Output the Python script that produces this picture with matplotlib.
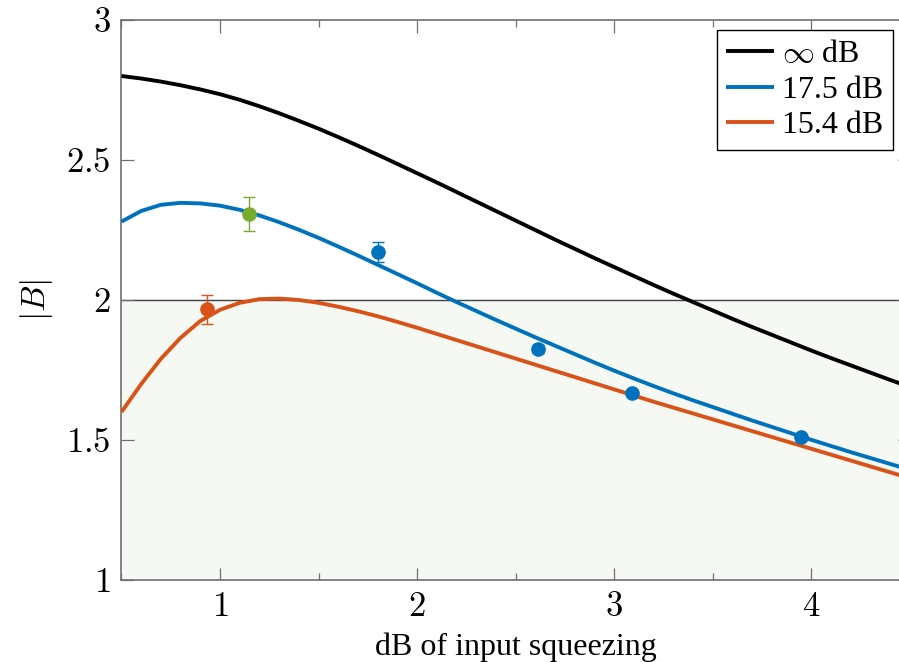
import numpy as np
import matplotlib
matplotlib.use('Agg')
import matplotlib.pyplot as plt
from matplotlib.ticker import MultipleLocator

plt.rcParams['font.family'] = ['Liberation Serif', 'DejaVu Serif']
plt.rcParams['mathtext.fontset'] = 'cm'

# curves, x step 0.1 from 0.5 to 4.5
x_grid = [0.5, 0.6, 0.7, 0.8, 0.9, 1.0, 1.1, 1.2, 1.3, 1.4,
          1.5, 1.6, 1.7, 1.8, 1.9, 2.0, 2.1, 2.2, 2.3, 2.4,
          2.5, 2.6, 2.7, 2.8, 2.9, 3.0, 3.1, 3.2, 3.3, 3.4,
          3.5, 3.6, 3.7, 3.8, 3.9, 4.0, 4.1, 4.2, 4.3, 4.4, 4.5]

y_inf = [2.800, 2.791, 2.780, 2.767, 2.752, 2.735, 2.715, 2.692, 2.667, 2.640,
         2.612, 2.582, 2.551, 2.519, 2.486, 2.453, 2.420, 2.386, 2.352, 2.318,
         2.284, 2.250, 2.216, 2.183, 2.150, 2.118, 2.086, 2.054, 2.023, 1.993,
         1.963, 1.933, 1.904, 1.876, 1.848, 1.820, 1.793, 1.767, 1.741, 1.715, 1.690]

y_175 = [2.280, 2.318, 2.340, 2.347, 2.345, 2.337, 2.322, 2.302, 2.278, 2.251,
         2.222, 2.191, 2.159, 2.126, 2.093, 2.060, 2.026, 1.993, 1.961, 1.929,
         1.898, 1.867, 1.837, 1.807, 1.777, 1.748, 1.720, 1.693, 1.667, 1.642,
         1.618, 1.594, 1.570, 1.547, 1.524, 1.501, 1.479, 1.457, 1.436, 1.415, 1.394]

y_154 = [1.600, 1.700, 1.790, 1.865, 1.925, 1.965, 1.990, 2.003, 2.005, 2.000,
         1.990, 1.976, 1.960, 1.942, 1.922, 1.901, 1.879, 1.857, 1.835, 1.813,
         1.791, 1.769, 1.747, 1.725, 1.703, 1.681, 1.659, 1.637, 1.616, 1.595,
         1.574, 1.553, 1.532, 1.511, 1.490, 1.469, 1.448, 1.427, 1.406, 1.385, 1.364]

# measured points
pt_x = [0.936, 1.149, 1.80, 2.613, 3.093, 3.949]
pt_y = [1.967, 2.308, 2.172, 1.824, 1.667, 1.512]
pt_err = [0.052, 0.060, 0.035, 0.015, 0.010, 0.005]
pt_col = ['#D95319', '#77AC30', '#0072BD', '#0072BD', '#0072BD', '#0072BD']

labels = [r'$\infty$ dB', '17.5 dB', '15.4 dB']
line_cols = ['black', '#0072BD', '#D95319']

xticks = [1, 2, 3, 4]
xtick_labels = [r'$1$', r'$2$', r'$3$', r'$4$']
yticks = [1, 1.5, 2, 2.5, 3]
ytick_labels = [r'$1$', r'$1.5$', r'$2$', r'$2.5$', r'$3$']

W, H = 899, 662
fig = plt.figure(figsize=(W / 100, H / 100), dpi=100)
ax = fig.add_axes([121.5 / W, 82 / H, 788 / W, 560 / H])
ax.set_xlim(0.5, 4.5)
ax.set_ylim(1, 3)

ax.axhspan(1, 2, color='#f6f9f3', zorder=0)
ax.axhline(2, color='#404040', lw=1.0, zorder=1)

for ys, c, lab in zip([y_inf, y_175, y_154], line_cols, labels):
    ax.plot(x_grid, ys, color=c, lw=2.8, label=lab, zorder=3,
            solid_capstyle='butt', solid_joinstyle='round')

for x, y, e, c in zip(pt_x, pt_y, pt_err, pt_col):
    eb = ax.errorbar(x, y, yerr=e, fmt='o', color=c, ms=9.5, elinewidth=1.0,
                     capsize=4.5, capthick=1.0, ecolor=c, zorder=4)
    for cap in eb[1]:
        cap.set_color('black')

ax.set_xticks(xticks)
ax.set_xticklabels(xtick_labels)
ax.set_yticks(yticks)
ax.set_yticklabels(ytick_labels)
ax.xaxis.set_minor_locator(MultipleLocator(0.5))
ax.tick_params(which='both', direction='in', top=True, right=True, color='#707070',
               labelsize=25, pad=8)
ax.tick_params(which='major', length=9, width=0.9)
ax.tick_params(which='minor', length=5, width=0.9)
for s in ax.spines.values():
    s.set_color('#707070')
    s.set_linewidth(1.2)

ax.set_xlabel('dB of input squeezing', fontsize=23, labelpad=6)
ax.set_ylabel(r'$|B|$', fontsize=24, labelpad=8)

leg = ax.legend(loc='upper right', bbox_to_anchor=(893 / W, 1 - 30 / H),
                bbox_transform=fig.transFigure, borderaxespad=0, fontsize=23,
                fancybox=False, framealpha=1, edgecolor='black',
                handlelength=1.5, handletextpad=0.25, labelspacing=0.2,
                borderpad=0.3)
leg.get_frame().set_linewidth(1.0)

fig.savefig('out.png', dpi=100)
